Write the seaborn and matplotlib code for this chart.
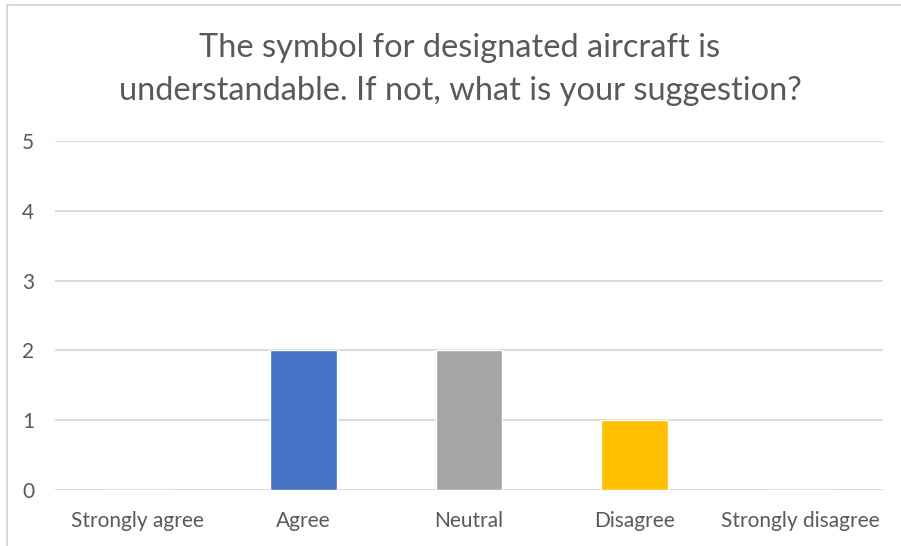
import matplotlib
matplotlib.use("Agg")
import matplotlib.pyplot as plt
import seaborn as sns
import pandas as pd
from matplotlib.lines import Line2D

categories = ["Strongly agree", "Agree", "Neutral", "Disagree", "Strongly disagree"]
values = [0, 2, 2, 1, 0]
colors = ["#4472C4", "#4472C4", "#A5A5A5", "#FFC000", "#5B9BD5"]
title = "The symbol for designated aircraft is\nunderstandable. If not, what is your suggestion?"
yticks = [0, 1, 2, 3, 4, 5]

sns.set_style("white")
plt.rcParams["font.family"] = ["Lato", "DejaVu Sans"]
text_color = "#595959"

df = pd.DataFrame({"category": categories, "value": values})

fig = plt.figure(figsize=(9.01, 5.46), dpi=100)
ax = fig.add_axes([55 / 901, 1 - 490 / 546, (883 - 55) / 901, (490 - 141) / 546])

sns.barplot(data=df, x="category", y="value", hue="category", palette=colors,
            width=0.4, legend=False, ax=ax, saturation=1, zorder=3)

ax.set_ylim(0, 5)
ax.set_xlim(-0.5, 4.5)
ax.set_yticks(yticks)
ax.set_yticklabels([str(t) for t in yticks])
ax.yaxis.grid(True, color="#D9D9D9", linewidth=1.3, zorder=0)
ax.xaxis.grid(False)
for s in ax.spines.values():
    s.set_visible(False)
ax.set_xlabel("")
ax.set_ylabel("")
ax.tick_params(axis="y", length=0, pad=15, labelsize=15, labelcolor=text_color)
ax.tick_params(axis="x", length=0, pad=15, labelsize=15, labelcolor=text_color)

fig.text(0.5105, 1 - 69.5 / 546, title, ha="center", va="center", fontsize=23.5,
         color=text_color, linespacing=1.58)

# chart frame (top and left edges)
fig.add_artist(Line2D([7 / 901, 1], [1 - 5 / 546, 1 - 5 / 546], transform=fig.transFigure,
                      color="#D9D9D9", linewidth=1.5))
fig.add_artist(Line2D([7 / 901, 7 / 901], [0, 1 - 5 / 546], transform=fig.transFigure,
                      color="#D9D9D9", linewidth=1.5))

fig.savefig("out.png", dpi=100, facecolor="white")
